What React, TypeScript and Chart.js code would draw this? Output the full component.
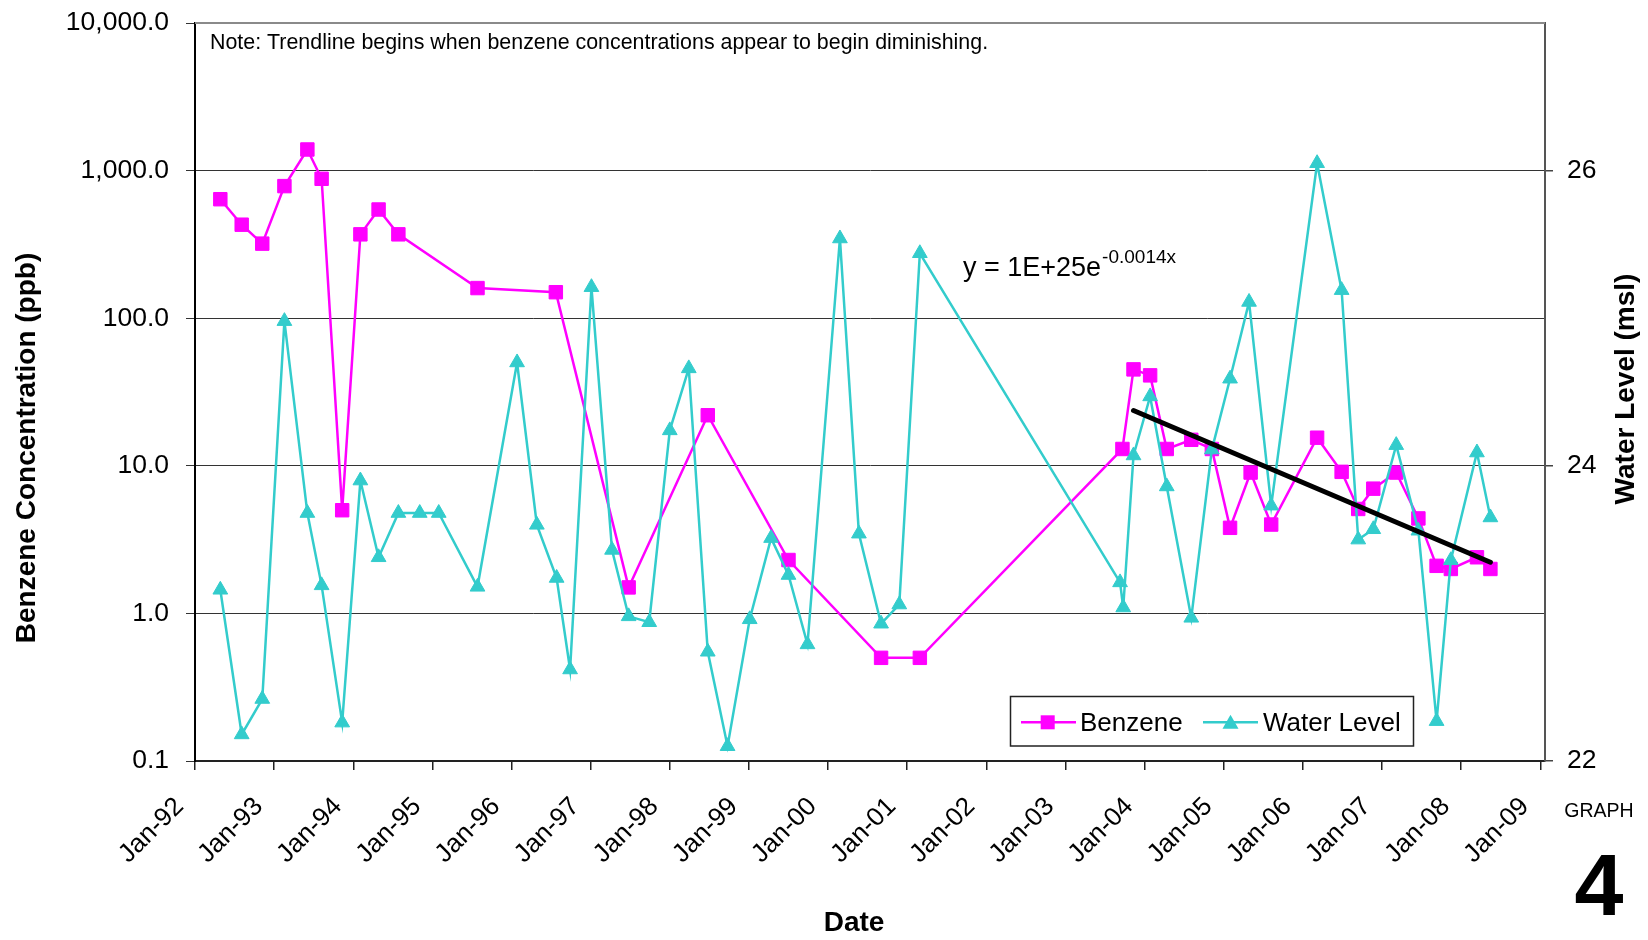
import React, { useEffect, useRef } from "react";
import { Chart, registerables } from "chart.js";

Chart.register(...registerables);

const FONT = "'Liberation Sans', Arial, Helvetica, sans-serif";

// X axis ticks (decimal years) and their labels
const xTickYears = [1992, 1993, 1994, 1995, 1996, 1997, 1998, 1999, 2000, 2001, 2002, 2003, 2004, 2005, 2006, 2007, 2008, 2009];
const xTickLabels = ["Jan-92", "Jan-93", "Jan-94", "Jan-95", "Jan-96", "Jan-97", "Jan-98", "Jan-99", "Jan-00", "Jan-01", "Jan-02", "Jan-03", "Jan-04", "Jan-05", "Jan-06", "Jan-07", "Jan-08", "Jan-09"];

// Left (log) axis ticks
const benzeneTicks = [0.1, 1, 10, 100, 1000, 10000];
const benzeneTickLabels = ["0.1", "1.0", "10.0", "100.0", "1,000.0", "10,000.0"];

// Right axis ticks
const waterTicks = [22, 24, 26];
const waterTickLabels = ["22", "24", "26"];

// Benzene series (sample date as decimal year, ppb)
const benzeneDates = [
  1992.32, 1992.59, 1992.85, 1993.13, 1993.42, 1993.60, 1993.86, 1994.09, 1994.32, 1994.57,
  1995.57, 1996.56, 1997.48, 1998.48, 1999.50, 2000.67, 2001.16, 2003.72, 2003.86, 2004.07,
  2004.28, 2004.59, 2004.85, 2005.08, 2005.34, 2005.60, 2006.18, 2006.49, 2006.70, 2006.89,
  2007.18, 2007.46, 2007.69, 2007.87, 2008.20, 2008.37,
];
const benzeneValues = [
  640, 430, 320, 785, 1390, 880, 5.0, 370, 545, 370,
  160, 150, 1.5, 22, 2.3, 0.5, 0.5, 13, 45, 41,
  13, 15, 13, 3.8, 9.0, 4.0, 15.5, 9.1, 5.1, 7.0,
  9.0, 4.4, 2.1, 2.0, 2.4, 2.0,
];

// Water level series (decimal year, ft msl)
const waterDates = [
  1992.32, 1992.59, 1992.85, 1993.13, 1993.42, 1993.60, 1993.86, 1994.09, 1994.32, 1994.57,
  1994.84, 1995.08, 1995.57, 1996.07, 1996.32, 1996.57, 1996.74, 1997.01, 1997.27, 1997.48,
  1997.74, 1998.00, 1998.24, 1998.48, 1998.73, 1999.01, 1999.28, 1999.50, 1999.74, 2000.15,
  2000.39, 2000.67, 2000.90, 2001.16, 2003.69, 2003.73, 2003.86, 2004.07, 2004.28, 2004.59,
  2004.85, 2005.08, 2005.32, 2005.60, 2006.18, 2006.49, 2006.70, 2006.89, 2007.18, 2007.46,
  2007.69, 2007.87, 2008.20, 2008.37,
];
const waterValues = [
  23.16, 22.18, 22.42, 24.98, 23.68, 23.19, 22.26, 23.90, 23.38, 23.68,
  23.68, 23.68, 23.18, 24.70, 23.60, 23.24, 22.62, 25.21, 23.43, 22.98,
  22.94, 24.24, 24.66, 22.74, 22.10, 22.96, 23.51, 23.26, 22.79, 25.54,
  23.54, 22.93, 23.06, 25.44, 23.21, 23.04, 24.07, 24.47, 23.86, 22.97,
  24.11, 24.59, 25.11, 23.73, 26.05, 25.19, 23.50, 23.57, 24.14, 23.56,
  22.27, 23.36, 24.09, 23.65,
];

// Exponential trendline end points (benzene, from late 2003)
const trendDates = [2003.86, 2008.37];
const trendValues = [23.7, 2.22];

const MAGENTA = "#FF00FF";
const TURQ = "#33CCCC";

const textPlugin = {
  id: "customText",
  beforeDraw(chart: any) {
    const ctx = chart.ctx;
    ctx.save();
    ctx.fillStyle = "#ffffff";
    ctx.fillRect(0, 0, chart.width, chart.height);
    ctx.restore();
  },
  afterDraw(chart: any) {
    const ctx = chart.ctx as CanvasRenderingContext2D;
    const { left, right, top } = chart.chartArea;
    ctx.save();

    // top border of plot area
    ctx.strokeStyle = "#8a8a8a";
    ctx.lineWidth = 2;
    ctx.beginPath();
    ctx.moveTo(left, top);
    ctx.lineTo(right, top);
    ctx.stroke();

    ctx.fillStyle = "#000";
    ctx.textBaseline = "alphabetic";
    ctx.textAlign = "left";

    // note
    ctx.font = `21.4px ${FONT}`;
    ctx.fillText("Note: Trendline begins when benzene concentrations appear to begin diminishing.", 210, 49);

    // trendline equation
    ctx.font = `27px ${FONT}`;
    const eq = "y = 1E+25e";
    ctx.fillText(eq, 963, 276);
    const w = ctx.measureText(eq).width;
    ctx.font = `19px ${FONT}`;
    ctx.fillText("-0.0014x", 963 + w + 1, 263);

    // axis titles
    ctx.font = `bold 28px ${FONT}`;
    ctx.textAlign = "center";
    ctx.textBaseline = "middle";
    ctx.fillText("Date", 854, 923);

    ctx.save();
    ctx.translate(27, 448);
    ctx.rotate(-Math.PI / 2);
    ctx.fillText("Benzene Concentration (ppb)", 0, 0);
    ctx.restore();

    ctx.save();
    ctx.translate(1626, 389);
    ctx.rotate(-Math.PI / 2);
    ctx.fillText("Water Level (msl)", 0, 0);
    ctx.restore();

    // GRAPH 4
    ctx.font = `19.5px ${FONT}`;
    ctx.fillText("GRAPH", 1599, 812);
    ctx.font = `bold 88px ${FONT}`;
    ctx.fillText("4", 1599, 891);

    // legend
    const lx = 1010.5, ly = 696.5, lw = 403, lh = 49.5;
    ctx.fillStyle = "#fff";
    ctx.fillRect(lx, ly, lw, lh);
    ctx.strokeStyle = "#222";
    ctx.lineWidth = 1.5;
    ctx.strokeRect(lx, ly, lw, lh);
    const cy = 722.3;
    ctx.lineWidth = 2.5;
    ctx.strokeStyle = MAGENTA;
    ctx.beginPath();
    ctx.moveTo(1021, cy);
    ctx.lineTo(1076, cy);
    ctx.stroke();
    ctx.fillStyle = MAGENTA;
    ctx.fillRect(1047.7 - 7, cy - 7, 14, 14);
    ctx.strokeStyle = TURQ;
    ctx.beginPath();
    ctx.moveTo(1203, cy);
    ctx.lineTo(1258, cy);
    ctx.stroke();
    ctx.fillStyle = TURQ;
    ctx.beginPath();
    ctx.moveTo(1230.5, cy - 7.5);
    ctx.lineTo(1238.5, cy + 6.5);
    ctx.lineTo(1222.5, cy + 6.5);
    ctx.closePath();
    ctx.fill();
    ctx.fillStyle = "#000";
    ctx.font = `26px ${FONT}`;
    ctx.textAlign = "left";
    ctx.textBaseline = "alphabetic";
    ctx.fillText("Benzene", 1080, 731);
    ctx.fillText("Water Level", 1263, 731);

    ctx.restore();
  },
};

export default function App() {
  const ref = useRef<HTMLCanvasElement>(null);

  useEffect(() => {
    const canvas = ref.current;
    if (!canvas) return;
    const benzenePts = benzeneDates.map((d, i) => ({ x: d, y: benzeneValues[i] }));
    const waterPts = waterDates.map((d, i) => ({ x: d, y: waterValues[i] }));
    const trendPts = trendDates.map((d, i) => ({ x: d, y: trendValues[i] }));
    const tickFont = { family: FONT, size: 26.5 };

    const chart = new Chart(canvas, {
      type: "line",
      data: {
        datasets: [
          {
            label: "Trendline",
            data: trendPts,
            borderColor: "#000",
            borderWidth: 5,
            borderCapStyle: "round",
            pointRadius: 0,
            yAxisID: "y",
            order: 0,
          },
          {
            label: "Water Level",
            data: waterPts,
            borderColor: TURQ,
            backgroundColor: TURQ,
            borderWidth: 2.5,
            pointStyle: "triangle",
            pointRadius: 8.5,
            pointBorderWidth: 1,
            pointBackgroundColor: TURQ,
            pointBorderColor: TURQ,
            yAxisID: "y2",
            order: 1,
          },
          {
            label: "Benzene",
            data: benzenePts,
            borderColor: MAGENTA,
            backgroundColor: MAGENTA,
            borderWidth: 2.5,
            pointStyle: "rect",
            pointRadius: 9.5,
            pointBorderWidth: 1,
            pointBackgroundColor: MAGENTA,
            pointBorderColor: MAGENTA,
            yAxisID: "y",
            order: 2,
          },
        ],
      },
      options: {
        responsive: false,
        animation: false,
        devicePixelRatio: 1,
        events: [],
        layout: { padding: { top: 23, left: 0, right: 0, bottom: 0 } },
        plugins: {
          legend: { display: false },
          tooltip: { enabled: false },
          title: { display: false },
        },
        scales: {
          x: {
            type: "linear",
            position: "bottom",
            min: 1992,
            max: 2009.06,
            afterBuildTicks: (s: any) => {
              s.ticks = xTickYears.map((v) => ({ value: v }));
            },
            afterFit: (s: any) => {
              s.height = 179;
              s.paddingLeft = 0;
              s.paddingRight = 0;
            },
            ticks: {
              autoSkip: false,
              minRotation: 45,
              maxRotation: 45,
              padding: 6,
              color: "#000",
              font: { family: FONT, size: 26 },
              callback: (_v: any, i: number) => xTickLabels[i] + "   ",
            },
            grid: { drawOnChartArea: false, drawTicks: true, tickLength: 9, color: "#222", lineWidth: 1.5 },
            border: { display: true, color: "#222", width: 2 },
          },
          y: {
            type: "logarithmic",
            position: "left",
            min: 0.1,
            max: 10000,
            afterBuildTicks: (s: any) => {
              s.ticks = benzeneTicks.map((v) => ({ value: v }));
            },
            afterFit: (s: any) => {
              s.width = 195;
              s.paddingTop = 0;
              s.paddingBottom = 0;
            },
            ticks: {
              padding: 17,
              color: "#000",
              font: tickFont,
              autoSkip: false,
              callback: (_v: any, i: number) => benzeneTickLabels[i],
            },
            grid: { color: "#333", lineWidth: 1, tickLength: 9, drawTicks: true },
            border: { display: true, color: "#000", width: 2 },
          },
          y2: {
            type: "linear",
            position: "right",
            min: 22,
            max: 27,
            afterBuildTicks: (s: any) => {
              s.ticks = waterTicks.map((v) => ({ value: v }));
            },
            afterFit: (s: any) => {
              s.width = 103;
              s.paddingTop = 0;
              s.paddingBottom = 0;
            },
            ticks: {
              padding: 14,
              color: "#000",
              font: tickFont,
              autoSkip: false,
              callback: (_v: any, i: number) => waterTickLabels[i],
            },
            grid: { drawOnChartArea: false, drawTicks: true, tickLength: 8, color: "#444", lineWidth: 1.5 },
            border: { display: true, color: "#555", width: 2 },
          },
        },
      } as any,
      plugins: [textPlugin],
    });
    return () => chart.destroy();
  }, []);

  return (
    <div style={{ position: "absolute", left: 0, top: 0, width: 1648, height: 940, background: "#fff" }}>
      <canvas ref={ref} width={1648} height={940} style={{ display: "block" }} />
    </div>
  );
}
